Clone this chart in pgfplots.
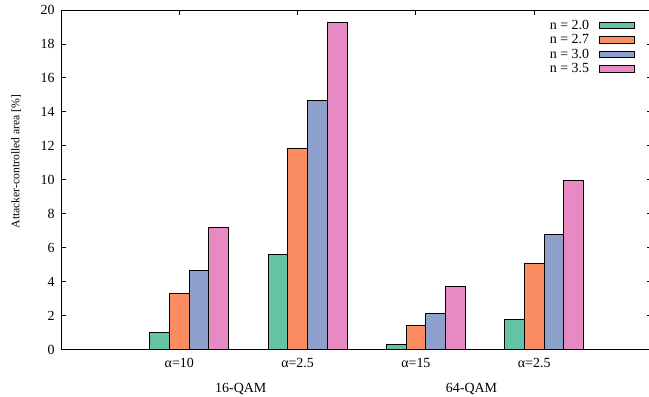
\documentclass[border=0pt]{standalone}
\usepackage{fontspec}
\setmainfont{Liberation Serif}
\usepackage{pgfplots}
\pgfplotsset{compat=1.18}
\definecolor{cA}{HTML}{66C2A5}
\definecolor{cB}{HTML}{FC8D62}
\definecolor{cC}{HTML}{8DA0CB}
\definecolor{cD}{HTML}{E78AC3}
\pgfplotsset{
  mybar/.style={ybar, bar width=0.1667, bar shift=0pt, draw=black, line width=0.75bp,
    legend image code/.code={\draw[##1,/tikz/.cd,line width=0.75bp] (0bp,-3.3bp) rectangle (35bp,3.3bp);}},
}
\begin{document}
\begin{tikzpicture}
\begin{axis}[
  scale only axis, width=591.5bp, height=339.5bp,
  clip=false,
  xmin=0, xmax=5, ymin=0, ymax=20,
  ytick={0,2,...,20},
  xtick={1,2,3,4},
  xticklabels={α=10, α=2.5, α=15, α=2.5},
  xtick pos=right, xticklabel pos=left,
  ytick pos=both,
  tick align=inside, major tick length=5bp,
  axis line style={line width=0.8bp},
  tick style={line width=0.8bp, black},
  tick label style={font=\fontsize{14}{14}\selectfont},
  xticklabel style={yshift=-5bp},
  yticklabel style={xshift=-3bp},
  /pgf/number format/assume math mode=true,
  ylabel={Attacker-controlled area [\%]},
  ylabel style={font=\fontsize{11.7}{12}\selectfont, at={(axis description cs:-0.0761,0.554)}, anchor=center},
  legend style={draw=none, fill=none, at={(axis description cs:1,1)}, anchor=north east,
    xshift=-15bp, yshift=-6bp, font=\fontsize{14}{14}\selectfont, row sep=0pt, column sep=9bp,
    nodes={inner sep=0.5bp, text height=10.5bp, text depth=3bp}},
  legend plot pos=right, legend cell align=right,
]
\addplot[mybar, fill=cA] coordinates {(0.8333,1.01) (1.8333,5.62) (2.8333,0.32) (3.8333,1.78)};
\addplot[mybar, fill=cB] coordinates {(1,3.28) (2,11.85) (3,1.40) (4,5.05)};
\addplot[mybar, fill=cC] coordinates {(1.1667,4.64) (2.1667,14.66) (3.1667,2.13) (4.1667,6.79)};
\addplot[mybar, fill=cD] coordinates {(1.3333,7.19) (2.3333,19.25) (3.3333,3.72) (4.3333,9.97)};
\legend{n = 2.0, n = 2.7, n = 3.0, n = 3.5}
\node[anchor=base, font=\fontsize{14}{14}\selectfont] at (axis cs:1.52,0) [yshift=-42.5bp] {16-QAM};
\node[anchor=base, font=\fontsize{14}{14}\selectfont] at (axis cs:3.47,0) [yshift=-42.5bp] {64-QAM};
\end{axis}
\pgfresetboundingbox
\useasboundingbox (-61bp,-47.5bp) rectangle (588bp,349.5bp);
\end{tikzpicture}
\end{document}
